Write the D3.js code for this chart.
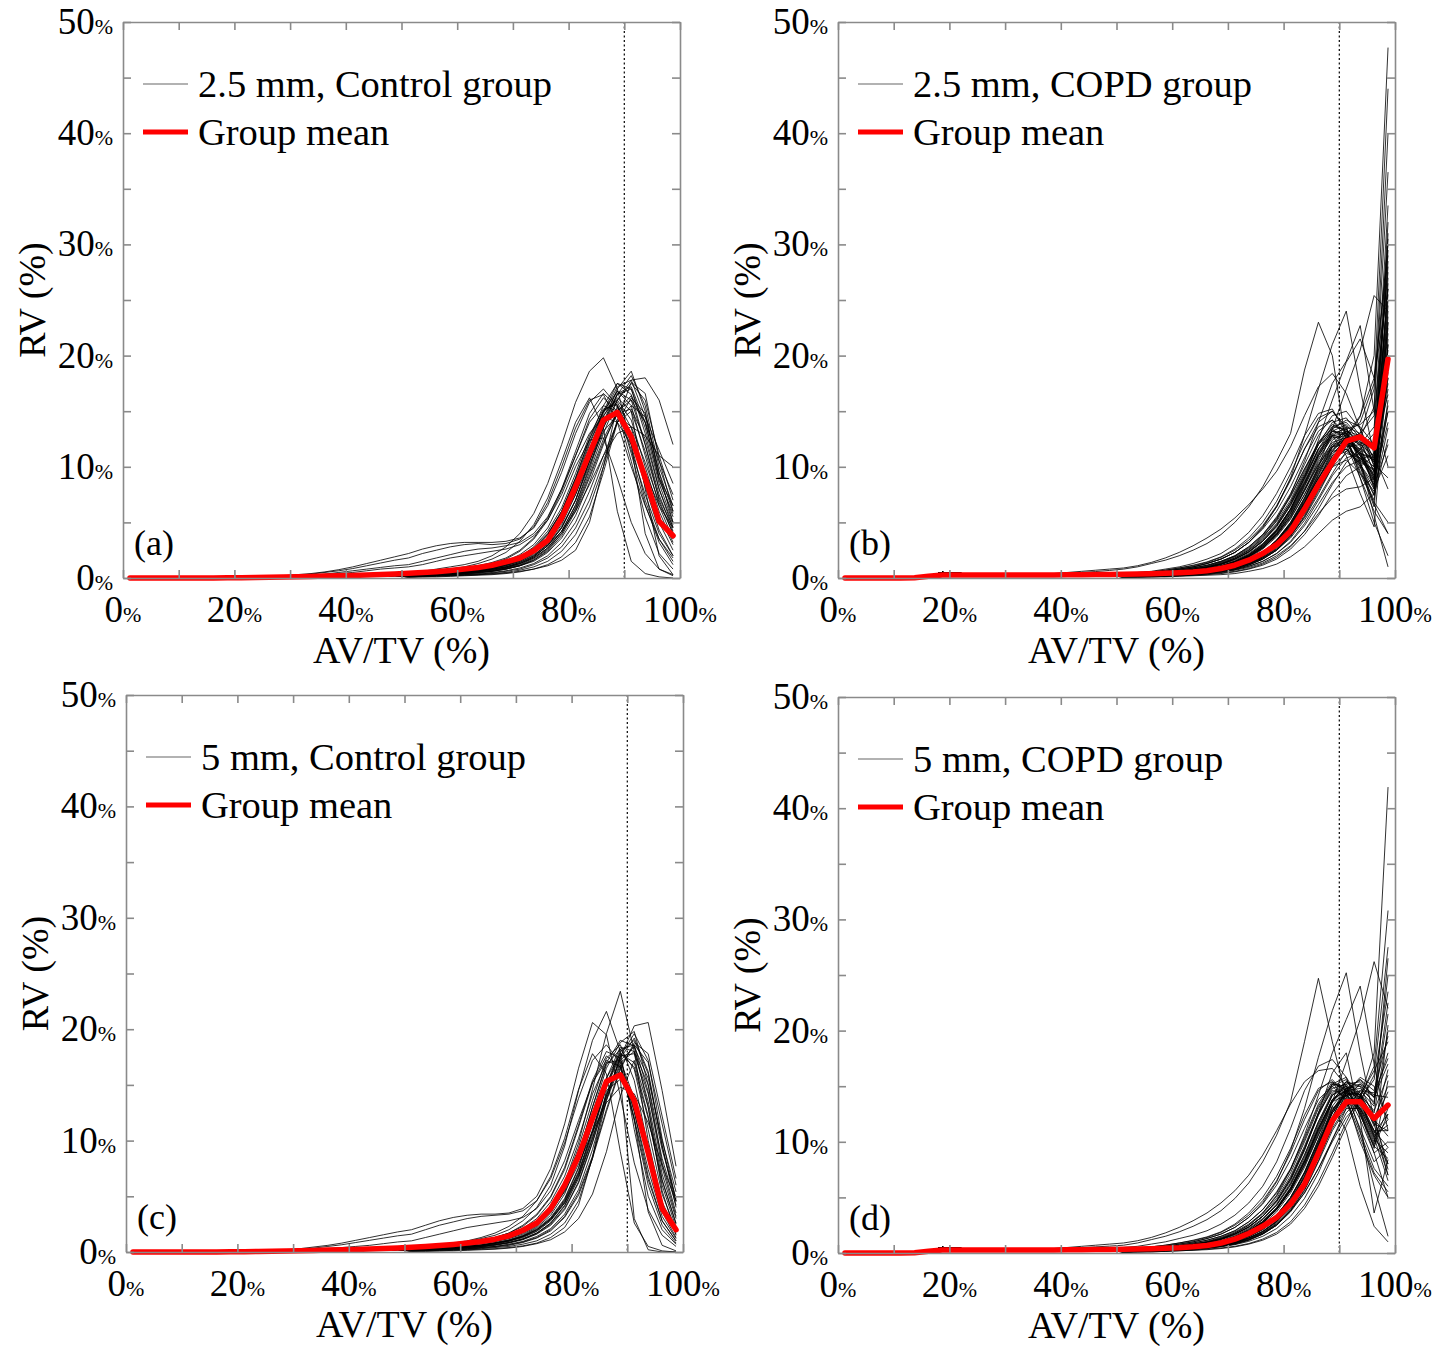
<!DOCTYPE html>
<html>
<head>
<meta charset="utf-8">
<script src="https://cdn.jsdelivr.net/npm/d3@7"></script>
<style>
  body { margin: 0; background: #fff; }
  svg { display: block; }
</style>
</head>
<body>
<svg id="chart" width="1452" height="1346"></svg>
<script>
// bin centres of the AV/TV histogram (2.5% bins)
var binCenters = [1.25,3.75,6.25,8.75,11.25,13.75,16.25,18.75,21.25,23.75,
                  26.25,28.75,31.25,33.75,36.25,38.75,41.25,43.75,46.25,48.75,
                  51.25,53.75,56.25,58.75,61.25,63.75,66.25,68.75,71.25,73.75,
                  76.25,78.75,81.25,83.75,86.25,88.75,91.25,93.75,96.25,98.75];

var xTickMarks = [0,10,20,30,40,50,60,70,80,90,100];
var xTickLabels = [0,20,40,60,80,100];
var yTickMarks = [0,5,10,15,20,25,30,35,40,45,50];
var yTickLabels = [0,10,20,30,40,50];
var thresholdLine = 90;

// low-AV/TV part shared by the subject curves (bins 1.25% .. 48.75%)
var headControl = [0,0,0,0,0,0,0.01,0.01,0.02,0.03,0.04,0.05,0.07,0.09,0.11,0.13,0.15,0.17,0.2,0.22];
var headCOPD = [0,0,0,0,0,0.03,0.22,0.5,0.45,0.33,0.29,0.27,0.27,0.27,0.27,0.28,0.28,0.29,0.3,0.31];

// group means (all 40 bins)
var meanA = [0,0,0,0,0,0,0.01,0.02,0.03,0.05,0.07,0.09,0.11,0.14,0.17,0.2,0.23,0.27,0.31,0.36,
             0.42,0.49,0.57,0.67,0.8,0.95,1.15,1.45,1.8,2.45,3.4,5.4,8.2,11.2,14.2,14.9,12.7,9.0,5.1,3.8];
var meanB = [0,0,0,0,0,0.03,0.15,0.26,0.27,0.27,0.27,0.27,0.27,0.27,0.28,0.28,0.29,0.3,0.31,0.32,
             0.34,0.36,0.39,0.43,0.48,0.55,0.65,0.85,1.15,1.6,2.2,3.0,4.2,6.2,8.4,10.4,12.3,12.7,11.7,19.7];
var meanC = [0,0,0,0,0,0,0.01,0.02,0.03,0.05,0.07,0.09,0.11,0.14,0.17,0.2,0.23,0.27,0.31,0.36,
             0.42,0.49,0.58,0.68,0.8,0.95,1.15,1.45,1.95,2.6,3.9,6.0,8.6,12.0,15.3,15.9,13.6,8.9,3.9,2.0];
var meanD = [0,0,0,0,0,0.03,0.15,0.26,0.27,0.27,0.27,0.27,0.27,0.27,0.28,0.28,0.29,0.3,0.31,0.32,
             0.34,0.36,0.39,0.43,0.48,0.56,0.68,0.9,1.25,1.75,2.4,3.2,4.4,6.2,9.0,11.9,13.6,13.6,12.1,13.3];

// individual subjects; each list ends at the 98.75% bin
var curvesA = [
  [0.5,0.6,0.8,1.0,1.2,1.5,2.0,2.8,4.0,5.8, 8.5,12.0,15.8,18.6,19.8,17.0,12.0,7.0,3.5,1.5],
  [0.1,0.2,0.3,0.4,0.55,0.75,1.0,1.3,1.6,1.9, 2.2,2.6,2.9,3.1,3.2,3.2,3.2,3.3,3.6,4.5, 6.5,9.5,13.0,15.8,17.0,15.5,11.5,7.5,4.0,2.0],
  [0.08,0.15,0.25,0.35,0.5,0.65,0.85,1.1,1.35,1.6, 1.8,2.2,2.5,2.8,3.0,3.1,3.0,3.1,3.5,4.6, 6.8,10.0,13.5,16.0,16.5,14.0,10.0,6.5,3.5,1.8],
  [0.05,0.1,0.15,0.25,0.35,0.5,0.65,0.8,0.95,1.1, 1.2,1.5,1.8,2.1,2.4,2.6,2.7,2.9,3.2,4.0, 5.5,8.0,11.0,14.0,15.5,15.0,12.5,9.0,5.5,3.0],
  [0.05,0.1,0.15,0.2,0.3,0.4,0.5,0.65,0.8,0.9, 1.0,1.2,1.5,1.8,2.0,2.2,2.4,2.6,3.0,3.8, 5.2,7.5,10.5,13.0,14.5,14.0,12.0,9.5,6.5,4.5],
  [0.3,0.4,0.5,0.6,0.7,0.9,1.1,1.4,1.9,2.6, 3.6,5.2,7.5,10.5,13.5,16.0,17.8,18.0,16.0,12.0],
  [0.3,0.35,0.4,0.5,0.6,0.7,0.9,1.2,1.6,2.3, 3.4,5.2,8.0,11.5,14.8,17.2,17.8,14.5,9.5,6.0],
  [0.2,0.3,0.35,0.45,0.55,0.7,0.9,1.1,1.5,2.1, 3.0,4.6,7.0,10.5,14.0,17.0,18.6,15.0,9.0,5.5],
  [0.2,0.25,0.3,0.4,0.5,0.6,0.8,1.0,1.3,1.8, 2.7,4.2,6.5,9.8,13.5,16.5,18.2,15.5,10.0,6.5],
  [0.3,0.4,0.5,0.6,0.75,0.9,1.1,1.4,1.9,2.7, 4.0,6.0,9.0,12.5,15.5,17.5,16.5,12.0,7.0,4.0],
  [0.25,0.3,0.4,0.5,0.6,0.75,0.95,1.2,1.6,2.3, 3.5,5.5,8.5,12.0,15.0,16.8,15.5,11.0,6.5,3.5],
  [0.2,0.25,0.3,0.4,0.5,0.6,0.75,0.95,1.3,1.9, 2.9,4.5,7.0,10.5,14.0,16.5,17.0,13.5,8.5,5.0],
  [0.15,0.2,0.25,0.3,0.4,0.5,0.6,0.8,1.1,1.6, 2.5,4.0,6.3,9.5,13.0,16.0,17.5,16.0,11.0,7.0],
  [0.2,0.25,0.3,0.4,0.5,0.65,0.85,1.1,1.5,2.2, 3.3,5.0,7.8,11.5,15.0,17.5,17.0,13.0,8.0,4.5],
  [0.1,0.1,0.15,0.2,0.25,0.3,0.35,0.45,0.6,0.8, 1.1,1.6,2.5,5.0,10.0,15.5,12.0,4.0,0.8,0.2],
  [0.4,0.5,0.6,0.8,1.0,1.3,1.7,2.3,3.3,4.8, 7.2,10.5,14.0,16.2,13.5,6.0,1.5,0.4,0.1,0.0],
  [0.3,0.4,0.5,0.6,0.8,1.0,1.3,1.7,2.4,3.5, 5.2,7.8,11.0,14.3,16.2,15.0,10.5,5.5,2.2,0.8],
  [0.2,0.3,0.35,0.45,0.6,0.75,1.0,1.3,1.8,2.6, 3.9,6.0,9.0,12.5,15.0,15.8,13.5,9.0,5.0,2.5],
  [0.15,0.2,0.25,0.3,0.4,0.5,0.65,0.85,1.15,1.7, 2.6,4.0,6.2,9.2,12.5,15.0,16.0,14.0,10.5,7.5],
  [0.1,0.15,0.2,0.25,0.3,0.4,0.5,0.65,0.9,1.3, 2.0,3.2,5.0,7.8,11.0,14.0,15.5,14.5,11.5,8.5],
  [0.2,0.25,0.3,0.4,0.5,0.6,0.8,1.0,1.4,2.0, 3.1,4.8,7.5,11.0,14.5,16.8,16.0,12.0,7.5,4.2],
  [0.3,0.35,0.45,0.55,0.7,0.85,1.1,1.4,1.9,2.8, 4.2,6.3,9.4,12.8,15.2,15.6,12.8,8.2,4.3,2.0],
  [0.05,0.1,0.1,0.15,0.2,0.25,0.3,0.4,0.55,0.8, 1.2,1.9,3.2,5.5,9.5,14.0,15.0,8.0,2.0,0.3],
  [0.15,0.2,0.25,0.3,0.35,0.45,0.6,0.8,1.1,1.6, 2.4,3.8,6.0,9.0,12.2,14.8,15.2,12.5,8.0,4.8],
  [0.25,0.3,0.4,0.5,0.6,0.8,1.0,1.3,1.8,2.6, 3.9,5.9,8.8,12.2,15.0,16.0,14.2,10.0,6.0,3.2],
  [0.1,0.15,0.2,0.25,0.3,0.35,0.45,0.6,0.8,1.2, 1.8,2.8,4.5,7.0,10.5,14.0,16.2,14.8,9.5,5.0],
  [0.2,0.25,0.3,0.35,0.45,0.55,0.7,0.9,1.2,1.8, 2.7,4.2,6.6,10.0,13.8,16.6,17.2,14.0,8.8,5.8],
  [0.35,0.45,0.55,0.7,0.9,1.1,1.4,1.8,2.5,3.6, 5.4,8.0,11.4,14.8,16.6,15.4,11.2,6.6,3.2,1.2],
  [0.2,0.25,0.3,0.4,0.5,0.6,0.8,1.0,1.4,2.0, 2.9,4.2,6.0,8.4,11.0,13.0,13.6,12.8,11.0,10.0],
  [0.15,0.2,0.25,0.3,0.4,0.5,0.6,0.8,1.1,1.5, 2.3,3.6,5.6,8.6,12.0,15.0,16.4,14.0,9.0,6.5],
  [0.2,0.25,0.3,0.35,0.45,0.55,0.7,0.9,1.3,1.9, 2.9,4.5,7.0,10.2,13.2,14.6,13.6,10.4,6.8,4.0],
  [0.3,0.35,0.45,0.55,0.7,0.9,1.1,1.5,2.1,3.0, 4.5,7.0,10.0,12.4,12.6,9.0,5.0,2.2,0.8,0.3],
  [0.1,0.15,0.2,0.2,0.25,0.3,0.4,0.5,0.7,1.0, 1.5,2.4,3.9,6.4,10.0,14.2,17.6,16.6,10.6,6.0],
  [0.25,0.3,0.35,0.45,0.55,0.7,0.9,1.15,1.6,2.3, 3.4,5.2,8.0,11.6,14.6,16.2,15.0,11.4,7.2,4.6]
];

var curvesB = [
  [0.3,0.35,0.42,0.5,0.58,0.68, 0.8,1.0,1.3,1.6,2.0,2.5,3.1,3.9,5.0,6.4, 8.2,10.5,13.0,18.7,23.0,20.0,12.0,9.0,6.0,4.0],
  [0.3,0.4,0.5,0.6,0.8,1.0,1.3,1.7,2.3,3.2, 4.5,6.4,9.0,12.8,17.0,21.0,24.0,17.0,11.0,8.0],
  [0.2,0.3,0.35,0.45,0.6,0.8,1.0,1.3,1.8,2.5, 3.6,5.2,7.5,10.5,14.0,17.5,19.5,22.7,15.0,10.0],
  [0.1,0.15,0.2,0.25,0.3,0.4,0.5,0.7,0.9,1.3, 1.8,2.6,3.8,5.4,7.6,10.0,12.5,14.5,20.0,47.7],
  [0.15,0.2,0.25,0.3,0.4,0.5,0.65,0.85,1.1,1.5, 2.1,3.0,4.3,6.0,8.2,10.5,12.4,13.0,17.0,44.0],
  [0.1,0.15,0.2,0.25,0.3,0.4,0.5,0.65,0.85,1.2, 1.7,2.5,3.6,5.2,7.2,9.4,11.4,12.6,15.4,40.0],
  [0.2,0.25,0.3,0.4,0.5,0.6,0.8,1.0,1.4,1.9, 2.7,3.8,5.4,7.5,9.8,12.0,13.4,13.8,15.0,36.5],
  [0.15,0.2,0.25,0.3,0.4,0.5,0.65,0.85,1.15,1.6, 2.3,3.3,4.8,6.8,9.2,11.4,12.6,12.0,11.0,32.0],
  [0.1,0.15,0.2,0.25,0.3,0.4,0.5,0.7,0.95,1.35, 1.95,2.9,4.3,6.3,8.8,11.4,13.0,14.0,17.5,30.0],
  [0.2,0.25,0.35,0.45,0.55,0.7,0.9,1.2,1.6,2.2, 3.1,4.4,6.2,8.6,11.2,13.4,14.2,13.6,12.0,28.5],
  [0.15,0.2,0.25,0.35,0.45,0.55,0.7,0.95,1.3,1.8, 2.6,3.7,5.3,7.5,10.0,12.4,13.2,12.4,9.5,27.0],
  [0.1,0.1,0.15,0.2,0.25,0.35,0.45,0.6,0.8,1.15, 1.7,2.5,3.8,5.6,8.0,10.6,12.8,14.6,18.0,26.0],
  [0.15,0.2,0.25,0.3,0.4,0.5,0.65,0.85,1.15,1.6, 2.3,3.3,4.9,7.1,10.0,13.4,17.0,20.5,25.4,24.0],
  [0.3,0.35,0.45,0.55,0.7,0.9,1.15,1.5,2.0,2.8, 3.9,5.5,7.6,10.2,12.8,14.6,15.0,13.4,10.0,24.0],
  [0.2,0.25,0.3,0.4,0.5,0.65,0.85,1.1,1.5,2.1, 3.0,4.3,6.2,8.6,11.2,13.0,13.4,12.0,8.0,23.0],
  [0.1,0.15,0.2,0.25,0.3,0.4,0.55,0.75,1.0,1.45, 2.1,3.1,4.6,6.7,9.3,11.8,13.2,12.8,10.4,22.0],
  [0.25,0.3,0.4,0.5,0.6,0.8,1.0,1.35,1.8,2.5, 3.5,4.9,6.8,9.2,11.6,12.9,12.4,10.2,7.5,21.0],
  [0.1,0.15,0.2,0.25,0.3,0.4,0.5,0.65,0.9,1.25, 1.8,2.6,3.9,5.8,8.2,10.6,12.0,11.6,9.2,20.0],
  [0.2,0.25,0.3,0.35,0.45,0.6,0.75,1.0,1.35,1.9, 2.7,3.9,5.6,7.9,10.4,12.2,12.6,11.0,8.6,19.0],
  [0.15,0.2,0.25,0.3,0.4,0.5,0.65,0.85,1.15,1.6, 2.3,3.4,5.0,7.2,9.8,11.8,12.4,11.2,9.0,18.0],
  [0.1,0.15,0.2,0.2,0.25,0.35,0.45,0.6,0.8,1.15, 1.7,2.5,3.7,5.5,7.8,10.0,11.2,10.8,9.6,17.0],
  [0.3,0.4,0.5,0.6,0.8,1.0,1.3,1.7,2.3,3.2, 4.4,6.0,8.2,10.8,13.2,14.2,12.6,9.6,7.0,16.0],
  [0.2,0.25,0.3,0.4,0.5,0.6,0.8,1.05,1.4,1.95, 2.8,4.0,5.8,8.2,10.8,12.6,12.8,11.0,8.4,15.0],
  [0.1,0.15,0.2,0.25,0.3,0.4,0.5,0.7,0.95,1.35, 1.9,2.8,4.1,6.0,8.4,10.6,11.6,10.8,8.8,14.0],
  [0.25,0.3,0.4,0.5,0.6,0.75,0.95,1.25,1.7,2.3, 3.3,4.6,6.5,9.0,11.4,12.8,12.2,10.0,7.4,12.5],
  [0.15,0.2,0.25,0.3,0.4,0.5,0.65,0.85,1.15,1.6, 2.3,3.4,5.0,7.2,9.6,11.4,11.6,10.2,8.0,11.0],
  [0.2,0.25,0.3,0.4,0.5,0.65,0.85,1.1,1.5,2.1, 3.0,4.3,6.2,8.8,11.6,13.6,14.0,12.6,10.2,9.0],
  [0.3,0.4,0.5,0.6,0.8,1.0,1.3,1.7,2.3,3.2, 4.6,6.4,8.8,11.6,14.0,15.0,13.6,10.4,6.6,4.0],
  [0.4,0.5,0.6,0.8,1.0,1.3,1.7,2.2,3.0,4.1, 5.6,7.6,10.0,12.8,14.8,15.2,13.0,9.0,5.0,2.0],
  [0.1,0.15,0.2,0.25,0.3,0.4,0.5,0.65,0.9,1.25, 1.8,2.7,4.0,5.8,8.0,10.0,10.6,9.4,6.8,5.0],
  [0.32,0.4,0.5,0.6,0.7,0.8, 0.9,1.1,1.4,1.8,2.3,2.9,3.6,4.4,5.4,6.6, 8.0,9.6,11.8,14.6,17.2,18.4,16.6,13.4,10.6,18.0],
  [0.2,0.25,0.3,0.4,0.5,0.6,0.8,1.05,1.45,2.0, 2.9,4.2,6.2,9.0,12.4,16.0,19.4,21.5,18.0,29.0],
  [0.05,0.1,0.1,0.15,0.2,0.25,0.3,0.4,0.55,0.8, 1.15,1.7,2.6,3.9,5.6,7.6,9.2,10.0,11.0,25.0],
  [0.05,0.1,0.1,0.15,0.2,0.25,0.35,0.45,0.6,0.85, 1.25,1.85,2.8,4.2,6.2,8.4,10.4,11.6,13.0,33.5],
  [0.2,0.25,0.3,0.35,0.45,0.6,0.75,1.0,1.35,1.9, 2.7,3.9,5.6,7.9,10.6,12.8,13.6,13.0,14.6,27.5],
  [0.15,0.2,0.25,0.3,0.4,0.5,0.65,0.85,1.15,1.6, 2.3,3.3,4.8,6.9,9.4,11.6,12.4,11.4,8.2,30.5],
  [0.25,0.3,0.4,0.5,0.6,0.75,0.95,1.25,1.7,2.35, 3.3,4.7,6.6,9.2,12.0,14.0,14.4,12.8,10.8,22.5],
  [0.1,0.15,0.2,0.25,0.3,0.4,0.5,0.7,0.95,1.35, 1.95,2.85,4.2,6.1,8.6,11.0,12.6,12.8,12.0,25.5],
  [0.2,0.25,0.3,0.4,0.5,0.6,0.8,1.0,1.4,2.0, 2.9,4.2,6.0,8.4,11.0,12.8,11.0,7.6,4.6,19.5],
  [0.15,0.2,0.25,0.3,0.4,0.5,0.6,0.8,1.1,1.55, 2.2,3.2,4.7,6.7,9.0,11.0,11.6,10.0,6.4,21.5],
  [0.3,0.35,0.45,0.55,0.7,0.9,1.1,1.45,1.95,2.7, 3.8,5.3,7.3,9.8,12.2,13.4,12.4,9.4,7.8,13.5],
  [0.25,0.3,0.4,0.5,0.65,0.8,1.05,1.4,1.9,2.6, 3.7,5.1,7.0,9.6,12.2,13.8,13.2,10.6,5.6,1.0],
  [0.1,0.15,0.15,0.2,0.25,0.3,0.4,0.55,0.75,1.05, 1.5,2.2,3.3,4.9,7.0,9.2,10.8,11.2,10.6,17.5],
  [0.2,0.25,0.3,0.4,0.5,0.65,0.8,1.05,1.45,2.0, 2.85,4.1,5.9,8.3,11.0,13.2,13.8,12.2,9.6,23.0],
  [0.35,0.45,0.55,0.7,0.9,1.1,1.4,1.85,2.5,3.4, 4.7,6.5,8.9,11.6,13.6,14.2,13.0,11.0,9.2,15.5],
  [0.05,0.05,0.1,0.1,0.15,0.2,0.25,0.3,0.4,0.6, 0.85,1.25,1.9,2.8,4.0,5.2,6.0,6.4,7.6,21.0],
  [0.1,0.1,0.15,0.2,0.25,0.3,0.4,0.5,0.7,0.95, 1.35,2.0,2.9,4.2,5.8,7.2,8.0,8.2,9.0,15.0],
  [0.2,0.25,0.3,0.4,0.5,0.6,0.8,1.05,1.4,2.0, 2.8,4.0,5.8,8.0,10.2,11.8,12.0,10.6,9.4,26.5],
  [0.15,0.2,0.25,0.3,0.4,0.5,0.65,0.85,1.15,1.6, 2.3,3.3,4.8,6.8,9.0,10.8,11.4,10.4,9.8,31.0],
  [0.3,0.35,0.45,0.55,0.7,0.9,1.15,1.5,2.0,2.8, 3.9,5.4,7.4,9.8,12.0,13.2,12.8,11.2,10.8,20.5],
  [0.1,0.15,0.2,0.25,0.3,0.4,0.5,0.7,0.95,1.35, 1.9,2.8,4.1,5.9,8.2,10.4,11.8,12.0,13.6,28.0],
  [0.25,0.3,0.4,0.5,0.6,0.75,0.95,1.25,1.7,2.35, 3.3,4.7,6.6,9.0,11.6,13.2,13.0,11.4,9.0,18.5],
  [0.2,0.25,0.3,0.35,0.45,0.6,0.75,1.0,1.35,1.9, 2.7,3.9,5.5,7.8,10.2,12.0,12.4,11.0,10.0,24.5],
  [0.15,0.2,0.25,0.3,0.4,0.5,0.6,0.8,1.1,1.5, 2.2,3.2,4.6,6.6,9.0,11.2,12.4,12.2,11.6,16.5],
  [0.35,0.45,0.55,0.7,0.9,1.15,1.45,1.9,2.6,3.6, 5.0,6.9,9.4,12.2,14.4,15.0,13.4,10.2,8.4,12.0],
  [0.1,0.1,0.15,0.2,0.25,0.3,0.4,0.55,0.75,1.05, 1.5,2.2,3.2,4.7,6.6,8.6,10.0,10.6,11.2,29.5],
  [0.2,0.25,0.3,0.4,0.5,0.65,0.85,1.1,1.5,2.1, 3.0,4.3,6.1,8.5,11.0,12.8,13.0,11.2,8.8,20.0],
  [0.25,0.3,0.35,0.45,0.6,0.75,0.95,1.25,1.7,2.4, 3.4,4.8,6.8,9.4,12.0,13.6,13.4,11.8,10.4,26.0],
  [0.15,0.2,0.25,0.3,0.4,0.5,0.65,0.85,1.15,1.6, 2.3,3.4,4.9,7.0,9.6,11.8,12.6,11.6,10.6,23.5]
];

var curvesC = [
  [0.3,0.35,0.45,0.55,0.7,0.9,1.1,1.4,1.9,2.7, 4.0,6.2,9.8,14.6,19.6,23.4,18.0,10.0,4.5,1.8],
  [0.4,0.5,0.6,0.75,0.95,1.2,1.5,2.0,2.8,4.0, 6.0,9.5,14.5,19.0,21.6,18.0,11.0,5.0,2.0,0.7],
  [0.1,0.2,0.3,0.45,0.6,0.8,1.05,1.3,1.55,1.8, 2.0,2.4,2.8,3.1,3.3,3.4,3.4,3.5,3.9,5.0, 7.5,11.5,16.5,20.6,19.5,14.0,8.0,3.8,1.5,0.5],
  [0.2,0.25,0.3,0.4,0.5,0.6,0.8,1.0,1.4,2.0, 2.9,4.4,6.8,10.2,14.0,17.5,20.3,20.6,14.5,7.7],
  [0.08,0.15,0.25,0.35,0.5,0.65,0.85,1.05,1.25,1.45, 1.6,2.0,2.4,2.7,3.0,3.2,3.3,3.4,3.7,4.6, 6.6,9.8,13.8,17.2,18.6,17.0,12.0,6.5,2.8,1.0],
  [0.25,0.3,0.4,0.5,0.6,0.75,0.95,1.2,1.6,2.3, 3.5,5.5,8.8,13.0,17.0,19.0,18.5,13.0,6.5,2.5],
  [0.2,0.25,0.3,0.4,0.5,0.65,0.85,1.1,1.5,2.2, 3.3,5.2,8.3,12.5,16.5,18.8,19.8,15.0,8.0,3.5],
  [0.15,0.2,0.25,0.3,0.4,0.5,0.65,0.85,1.15,1.7, 2.6,4.2,6.8,10.5,14.8,18.0,19.0,16.0,9.5,4.5],
  [0.05,0.1,0.1,0.15,0.2,0.25,0.3,0.4,0.55,0.8, 1.3,2.2,4.2,8.5,14.5,15.5,3.0,0.2,0.0,0.0],
  [0.3,0.4,0.5,0.6,0.8,1.0,1.3,1.7,2.4,3.4, 5.0,7.6,11.4,15.4,18.0,17.4,12.6,6.8,2.8,1.0],
  [0.2,0.25,0.3,0.4,0.5,0.6,0.8,1.05,1.4,2.0, 3.0,4.7,7.5,11.5,15.6,18.4,18.0,13.5,7.0,3.0],
  [0.1,0.15,0.2,0.25,0.3,0.4,0.5,0.65,0.9,1.3, 2.0,3.2,5.3,8.6,12.8,16.6,18.6,17.0,11.5,6.0],
  [0.25,0.3,0.4,0.5,0.65,0.8,1.0,1.3,1.8,2.6, 3.9,6.0,9.4,13.6,17.4,18.6,15.4,9.4,4.2,1.6],
  [0.05,0.05,0.1,0.1,0.15,0.2,0.25,0.35,0.5,0.75, 1.1,1.8,3.0,5.2,9.0,14.0,17.2,13.0,5.5,1.5],
  [0.2,0.25,0.3,0.35,0.45,0.6,0.75,1.0,1.35,1.9, 2.9,4.5,7.1,10.8,14.8,17.6,17.8,14.2,8.4,4.2],
  [0.4,0.5,0.65,0.8,1.0,1.3,1.7,2.3,3.2,4.6, 6.8,10.2,14.6,17.8,16.0,9.0,2.6,0.5,0.1,0.0],
  [0.15,0.2,0.25,0.3,0.4,0.5,0.65,0.85,1.2,1.7, 2.6,4.1,6.6,10.2,14.2,17.2,18.4,15.6,10.0,5.4],
  [0.3,0.35,0.45,0.55,0.7,0.9,1.15,1.5,2.1,3.0, 4.5,6.8,10.2,14.2,17.0,17.2,13.8,8.2,3.6,1.3],
  [0.2,0.25,0.3,0.4,0.5,0.6,0.8,1.0,1.4,2.0, 3.0,4.6,7.2,11.0,15.0,17.8,17.0,12.2,6.0,2.2],
  [0.3,0.35,0.45,0.55,0.7,0.85,1.1,1.4,1.9,2.6, 3.7,5.4,7.9,10.8,13.4,14.8,14.2,11.6,7.8,4.6],
  [0.1,0.15,0.2,0.2,0.25,0.35,0.45,0.6,0.85,1.25, 1.9,3.1,5.1,8.4,12.6,16.4,18.8,17.8,12.2,6.6],
  [0.25,0.3,0.35,0.45,0.6,0.75,0.95,1.25,1.7,2.4, 3.6,5.6,8.8,13.0,16.8,18.2,16.4,11.0,5.2,2.0],
  [0.1,0.1,0.15,0.2,0.25,0.3,0.4,0.5,0.7,1.0, 1.6,2.6,4.6,8.4,13.6,16.8,12.0,3.6,0.6,0.1],
  [0.15,0.2,0.25,0.3,0.35,0.45,0.6,0.8,1.1,1.6, 2.4,3.8,6.2,9.8,13.8,17.0,18.0,15.0,9.2,4.8],
  [0.05,0.1,0.15,0.2,0.3,0.4,0.5,0.6,0.75,0.9, 1.0,1.3,1.6,1.9,2.2,2.4,2.6,2.8,3.1,3.9, 5.5,8.2,11.8,15.2,17.2,16.6,12.6,7.4,3.2,1.2],
  [0.2,0.25,0.3,0.35,0.45,0.55,0.7,0.95,1.3,1.85, 2.8,4.4,7.0,10.8,15.0,18.2,18.6,14.4,7.6,3.2],
  [0.35,0.4,0.5,0.65,0.8,1.0,1.3,1.7,2.3,3.3, 4.9,7.4,11.2,15.2,17.6,16.6,11.8,6.0,2.4,0.8],
  [0.15,0.2,0.25,0.3,0.4,0.5,0.65,0.85,1.15,1.65, 2.5,3.9,6.3,9.9,14.0,17.4,19.2,16.2,9.6,4.0],
  [0.2,0.25,0.3,0.4,0.5,0.6,0.8,1.05,1.45,2.1, 3.1,4.8,7.6,11.6,15.6,17.8,16.6,12.0,6.4,2.6],
  [0.1,0.15,0.2,0.25,0.3,0.4,0.5,0.7,0.95,1.4, 2.1,3.4,5.6,9.2,13.6,17.6,19.6,17.2,10.2,4.6]
];

var curvesD = [
  [0.3,0.35,0.4,0.48,0.55,0.62, 0.7,0.9,1.2,1.5,1.9,2.4,3.0,3.8,4.9,6.3, 8.2,10.6,13.6,19.0,24.7,19.0,14.0,10.0,7.0,5.0],
  [0.3,0.4,0.5,0.6,0.8,1.0,1.3,1.7,2.3,3.2, 4.5,6.4,9.2,13.0,17.6,21.8,25.2,18.0,12.0,8.0],
  [0.2,0.3,0.35,0.45,0.6,0.8,1.0,1.3,1.8,2.5, 3.6,5.2,7.5,10.6,14.2,18.0,21.0,24.0,17.0,11.0],
  [0.1,0.15,0.2,0.25,0.3,0.4,0.5,0.7,0.9,1.3, 1.8,2.6,3.8,5.4,7.6,10.2,12.6,14.0,18.0,41.9],
  [0.15,0.2,0.25,0.3,0.4,0.5,0.65,0.85,1.1,1.5, 2.1,3.0,4.3,6.2,8.6,11.2,13.2,14.0,16.8,30.8],
  [0.1,0.15,0.2,0.25,0.3,0.4,0.5,0.65,0.85,1.2, 1.7,2.5,3.7,5.4,7.6,10.0,12.2,13.6,16.0,27.5],
  [0.15,0.2,0.25,0.3,0.4,0.5,0.65,0.85,1.15,1.6, 2.3,3.3,4.9,7.2,10.2,13.6,17.2,21.0,26.2,22.0],
  [0.2,0.25,0.3,0.4,0.5,0.6,0.8,1.0,1.4,1.9, 2.7,3.9,5.6,7.9,10.6,13.2,14.8,15.0,14.0,25.0],
  [0.15,0.2,0.25,0.3,0.4,0.5,0.65,0.85,1.15,1.6, 2.3,3.4,5.0,7.2,10.0,12.6,14.2,14.4,12.6,20.0],
  [0.1,0.15,0.2,0.25,0.3,0.4,0.5,0.7,0.95,1.35, 1.95,2.9,4.3,6.4,9.2,12.2,14.6,15.6,14.0,18.0],
  [0.2,0.25,0.35,0.45,0.55,0.7,0.9,1.2,1.6,2.2, 3.1,4.4,6.3,8.8,11.8,14.4,15.4,14.2,11.4,16.5],
  [0.15,0.2,0.25,0.35,0.45,0.55,0.7,0.95,1.3,1.8, 2.6,3.7,5.4,7.7,10.6,13.6,15.4,15.0,12.2,15.0],
  [0.1,0.1,0.15,0.2,0.25,0.35,0.45,0.6,0.8,1.15, 1.7,2.5,3.8,5.7,8.3,11.4,14.0,15.2,14.2,14.0],
  [0.25,0.3,0.4,0.5,0.65,0.8,1.05,1.4,1.9,2.6, 3.6,5.1,7.2,10.0,13.0,15.2,15.0,12.8,10.0,13.0],
  [0.2,0.25,0.3,0.4,0.5,0.65,0.85,1.1,1.5,2.1, 3.0,4.3,6.2,8.8,11.8,14.2,14.8,13.0,10.4,12.0],
  [0.1,0.15,0.2,0.25,0.3,0.4,0.55,0.75,1.0,1.45, 2.1,3.1,4.6,6.8,9.6,12.6,14.4,14.0,11.6,11.0],
  [0.25,0.3,0.4,0.5,0.6,0.8,1.0,1.35,1.8,2.5, 3.5,4.9,6.9,9.6,12.6,14.6,14.4,12.0,9.0,10.0],
  [0.1,0.15,0.2,0.25,0.3,0.4,0.5,0.65,0.9,1.25, 1.8,2.7,4.0,6.0,8.8,11.8,13.8,13.6,11.0,9.5],
  [0.2,0.25,0.3,0.35,0.45,0.6,0.75,1.0,1.35,1.9, 2.7,3.9,5.7,8.2,11.2,13.8,14.6,13.0,10.2,9.0],
  [0.15,0.2,0.25,0.3,0.4,0.5,0.65,0.85,1.15,1.6, 2.3,3.4,5.0,7.3,10.2,13.0,14.2,13.2,10.6,8.0],
  [0.1,0.15,0.2,0.2,0.25,0.35,0.45,0.6,0.8,1.15, 1.7,2.5,3.8,5.6,8.2,11.0,13.0,13.0,11.0,7.0],
  [0.3,0.4,0.5,0.6,0.8,1.0,1.3,1.7,2.3,3.2, 4.4,6.1,8.4,11.2,13.8,15.0,13.8,10.8,7.6,6.0],
  [0.2,0.25,0.3,0.4,0.5,0.6,0.8,1.05,1.4,1.95, 2.8,4.0,5.8,8.3,11.2,13.6,14.2,12.6,9.0,5.0],
  [0.1,0.15,0.2,0.25,0.3,0.4,0.5,0.7,0.95,1.35, 1.9,2.8,4.2,6.4,9.6,13.2,11.0,6.0,2.4,1.0],
  [0.25,0.3,0.4,0.5,0.6,0.75,0.95,1.25,1.7,2.3, 3.3,4.6,6.5,9.2,12.6,16.2,18.0,12.0,3.6,8.4],
  [0.32,0.4,0.5,0.6,0.7,0.8, 0.9,1.1,1.4,1.8,2.3,2.9,3.6,4.5,5.6,7.0, 8.8,11.0,13.4,15.4,16.4,16.6,15.0,12.4,9.6,12.5],
  [0.5,0.6,0.8,1.0,1.3,1.6,2.0,2.6,3.4,4.5, 6.0,8.2,11.2,14.6,16.8,17.4,15.8,12.6,9.8,20.5],
  [0.05,0.1,0.1,0.15,0.2,0.25,0.3,0.4,0.55,0.8, 1.15,1.7,2.6,4.0,6.0,8.6,11.4,13.8,15.6,23.5],
  [0.05,0.1,0.1,0.15,0.2,0.25,0.35,0.45,0.6,0.85, 1.25,1.85,2.8,4.3,6.4,9.0,11.8,14.2,16.4,19.0],
  [0.2,0.25,0.3,0.35,0.45,0.6,0.75,1.0,1.35,1.9, 2.7,3.9,5.6,7.9,10.8,13.6,15.2,15.4,14.0,17.0],
  [0.15,0.2,0.25,0.3,0.4,0.5,0.65,0.85,1.15,1.6, 2.3,3.3,4.8,7.0,9.8,12.8,14.8,15.2,13.4,21.5],
  [0.25,0.3,0.4,0.5,0.6,0.75,0.95,1.25,1.7,2.35, 3.3,4.7,6.6,9.3,12.4,15.0,15.6,13.6,10.6,11.5],
  [0.3,0.35,0.45,0.55,0.7,0.9,1.15,1.5,2.0,2.8, 3.9,5.5,7.6,10.4,13.4,15.4,14.6,11.0,6.0,1.5],
  [0.1,0.15,0.2,0.25,0.3,0.4,0.5,0.7,0.95,1.35, 1.95,2.85,4.2,6.2,9.0,12.0,14.2,14.6,13.2,26.5],
  [0.2,0.25,0.3,0.4,0.5,0.65,0.8,1.05,1.45,2.0, 2.85,4.1,5.9,8.4,11.4,14.2,15.4,14.4,11.8,14.5],
  [0.35,0.45,0.55,0.7,0.9,1.1,1.4,1.85,2.5,3.4, 4.7,6.5,9.0,12.0,14.6,15.6,14.2,11.2,8.2,9.5],
  [0.15,0.2,0.25,0.3,0.35,0.45,0.6,0.8,1.1,1.5, 2.2,3.2,4.7,6.9,9.8,12.8,14.6,14.2,12.2,7.5],
  [0.1,0.15,0.2,0.2,0.25,0.35,0.45,0.6,0.85,1.2, 1.75,2.6,3.9,5.9,8.6,11.8,14.4,15.8,15.0,12.0],
  [0.2,0.25,0.3,0.4,0.5,0.6,0.8,1.0,1.4,1.95, 2.8,4.0,5.8,8.2,11.2,13.8,14.6,12.8,9.4,15.5],
  [0.25,0.3,0.35,0.45,0.6,0.75,0.95,1.25,1.7,2.35, 3.3,4.7,6.7,9.4,12.6,15.2,15.8,13.8,10.4,6.5],
  [0.2,0.25,0.3,0.4,0.5,0.6,0.8,1.05,1.4,2.0, 2.8,4.0,5.8,8.2,11.0,13.6,14.8,14.0,12.0,10.5],
  [0.15,0.2,0.25,0.3,0.4,0.5,0.65,0.85,1.15,1.6, 2.3,3.4,5.0,7.2,10.0,12.8,14.4,14.2,12.8,16.0],
  [0.3,0.35,0.45,0.55,0.7,0.9,1.15,1.5,2.0,2.8, 3.9,5.4,7.5,10.2,13.2,15.2,14.8,12.4,9.6,8.5],
  [0.1,0.15,0.2,0.25,0.3,0.4,0.5,0.7,0.95,1.35, 1.9,2.8,4.2,6.2,9.0,12.2,14.8,15.6,14.6,19.5],
  [0.25,0.3,0.4,0.5,0.6,0.75,0.95,1.25,1.7,2.35, 3.3,4.7,6.7,9.4,12.4,14.8,15.2,13.4,10.8,12.5],
  [0.2,0.25,0.3,0.35,0.45,0.6,0.75,1.0,1.35,1.9, 2.7,3.9,5.6,8.0,11.0,13.8,15.0,14.2,11.6,7.0],
  [0.15,0.2,0.25,0.3,0.4,0.5,0.6,0.8,1.1,1.5, 2.2,3.2,4.7,6.8,9.6,12.6,14.6,14.8,13.6,22.5],
  [0.35,0.45,0.55,0.7,0.9,1.15,1.45,1.9,2.6,3.6, 5.0,6.9,9.4,12.4,14.8,15.4,13.6,10.4,7.2,5.5],
  [0.1,0.1,0.15,0.2,0.25,0.3,0.4,0.55,0.75,1.05, 1.5,2.2,3.3,4.9,7.2,10.2,13.0,14.6,14.4,17.5],
  [0.2,0.25,0.3,0.4,0.5,0.65,0.85,1.1,1.5,2.1, 3.0,4.3,6.1,8.6,11.6,14.2,15.0,13.6,11.0,11.0]
];

var panels = [
  {letter: '(a)', legend: '2.5 mm, Control group', left: 123, top: 22, right: 680, bottom: 578,
   head: headControl, curves: curvesA, mean: meanA},
  {letter: '(b)', legend: '2.5 mm, COPD group', left: 838, top: 22, right: 1395, bottom: 578,
   head: headCOPD, curves: curvesB, mean: meanB},
  {letter: '(c)', legend: '5 mm, Control group', left: 126, top: 695, right: 683, bottom: 1252,
   head: headControl, curves: curvesC, mean: meanC},
  {letter: '(d)', legend: '5 mm, COPD group', left: 838, top: 697, right: 1395, bottom: 1253,
   head: headCOPD, curves: curvesD, mean: meanD}
];

var font = "'Liberation Serif', 'Times New Roman', Times, serif";
var frameColor = '#8a8a8a';

// put a subject list in front of the shared low-AV/TV part
function fullCurve(head, vals){
  return head.slice(0, binCenters.length - vals.length).concat(vals);
}

var svg = d3.select('#chart');

panels.forEach(function(p){
  var x = d3.scaleLinear().domain([0, 100]).range([p.left, p.right]);
  var y = d3.scaleLinear().domain([0, 50]).range([p.bottom, p.top]);

  var line = d3.line()
    .x(function(d, i){ return x(binCenters[i]); })
    .y(function(d){ return y(d); });

  var g = svg.append('g');

  g.append('line')
    .attr('x1', x(thresholdLine)).attr('x2', x(thresholdLine))
    .attr('y1', y(50)).attr('y2', y(0))
    .attr('stroke', '#000')
    .attr('stroke-width', 1.2)
    .attr('stroke-dasharray', '2,2.5');

  g.append('g').selectAll('.subject')
    .data(p.curves)
    .enter().append('path')
    .attr('class', 'subject')
    .attr('d', function(c){ return line(fullCurve(p.head, c)); })
    .attr('fill', 'none')
    .attr('stroke', '#000')
    .attr('stroke-width', 0.9)
    .attr('stroke-opacity', 0.9)
    .attr('stroke-linejoin', 'round');

  g.append('path')
    .attr('d', line(p.mean))
    .attr('fill', 'none')
    .attr('stroke', '#ff0000')
    .attr('stroke-width', 5.5)
    .attr('stroke-linejoin', 'round')
    .attr('stroke-linecap', 'round');

  // box with inward ticks on all four sides
  var axes = [
    [d3.axisBottom(x).tickValues(xTickMarks), 'translate(0,' + p.bottom + ')'],
    [d3.axisTop(x).tickValues(xTickMarks), 'translate(0,' + p.top + ')'],
    [d3.axisLeft(y).tickValues(yTickMarks), 'translate(' + p.left + ',0)'],
    [d3.axisRight(y).tickValues(yTickMarks), 'translate(' + p.right + ',0)']
  ];
  axes.forEach(function(a){
    g.append('g')
      .attr('transform', a[1])
      .attr('color', frameColor)
      .call(a[0].tickSizeInner(-8).tickSizeOuter(0).tickFormat(''))
      .call(function(s){ s.selectAll('line, path').attr('stroke-width', 1.6); });
  });

  // tick labels: big number, small percent sign
  var xl = g.selectAll('.xlab')
    .data(xTickLabels)
    .enter().append('text')
    .attr('class', 'xlab')
    .attr('x', function(d){ return x(d); })
    .attr('y', p.bottom + 44)
    .attr('text-anchor', 'middle')
    .attr('font-family', font)
    .attr('fill', '#000');
  xl.append('tspan').attr('font-size', 37).text(function(d){ return d; });
  xl.append('tspan').attr('font-size', 22).text('%');

  var yl = g.selectAll('.ylab')
    .data(yTickLabels)
    .enter().append('text')
    .attr('class', 'ylab')
    .attr('x', p.left - 10)
    .attr('y', function(d){ return y(d) + 12; })
    .attr('text-anchor', 'end')
    .attr('font-family', font)
    .attr('fill', '#000');
  yl.append('tspan').attr('font-size', 37).text(function(d){ return d; });
  yl.append('tspan').attr('font-size', 22).text('%');

  // axis titles
  g.append('text')
    .attr('x', (p.left + p.right) / 2)
    .attr('y', p.bottom + 85)
    .attr('text-anchor', 'middle')
    .attr('font-family', font)
    .attr('font-size', 38)
    .text('AV/TV (%)');

  g.append('text')
    .attr('transform', 'translate(' + (p.left - 78) + ',' + ((p.top + p.bottom) / 2) + ') rotate(-90)')
    .attr('text-anchor', 'middle')
    .attr('font-family', font)
    .attr('font-size', 38)
    .text('RV (%)');

  // legend
  g.append('line')
    .attr('x1', p.left + 20).attr('x2', p.left + 65)
    .attr('y1', p.top + 62).attr('y2', p.top + 62)
    .attr('stroke', '#666').attr('stroke-width', 1.2);
  g.append('text')
    .attr('x', p.left + 75).attr('y', p.top + 75)
    .attr('font-family', font).attr('font-size', 38.5)
    .text(p.legend);

  g.append('line')
    .attr('x1', p.left + 20).attr('x2', p.left + 65)
    .attr('y1', p.top + 110).attr('y2', p.top + 110)
    .attr('stroke', '#ff0000').attr('stroke-width', 5);
  g.append('text')
    .attr('x', p.left + 75).attr('y', p.top + 123)
    .attr('font-family', font).attr('font-size', 38.5)
    .text('Group mean');

  g.append('text')
    .attr('x', p.left + 11).attr('y', p.bottom - 23)
    .attr('font-family', font).attr('font-size', 36)
    .text(p.letter);
});
</script>
</body>
</html>
